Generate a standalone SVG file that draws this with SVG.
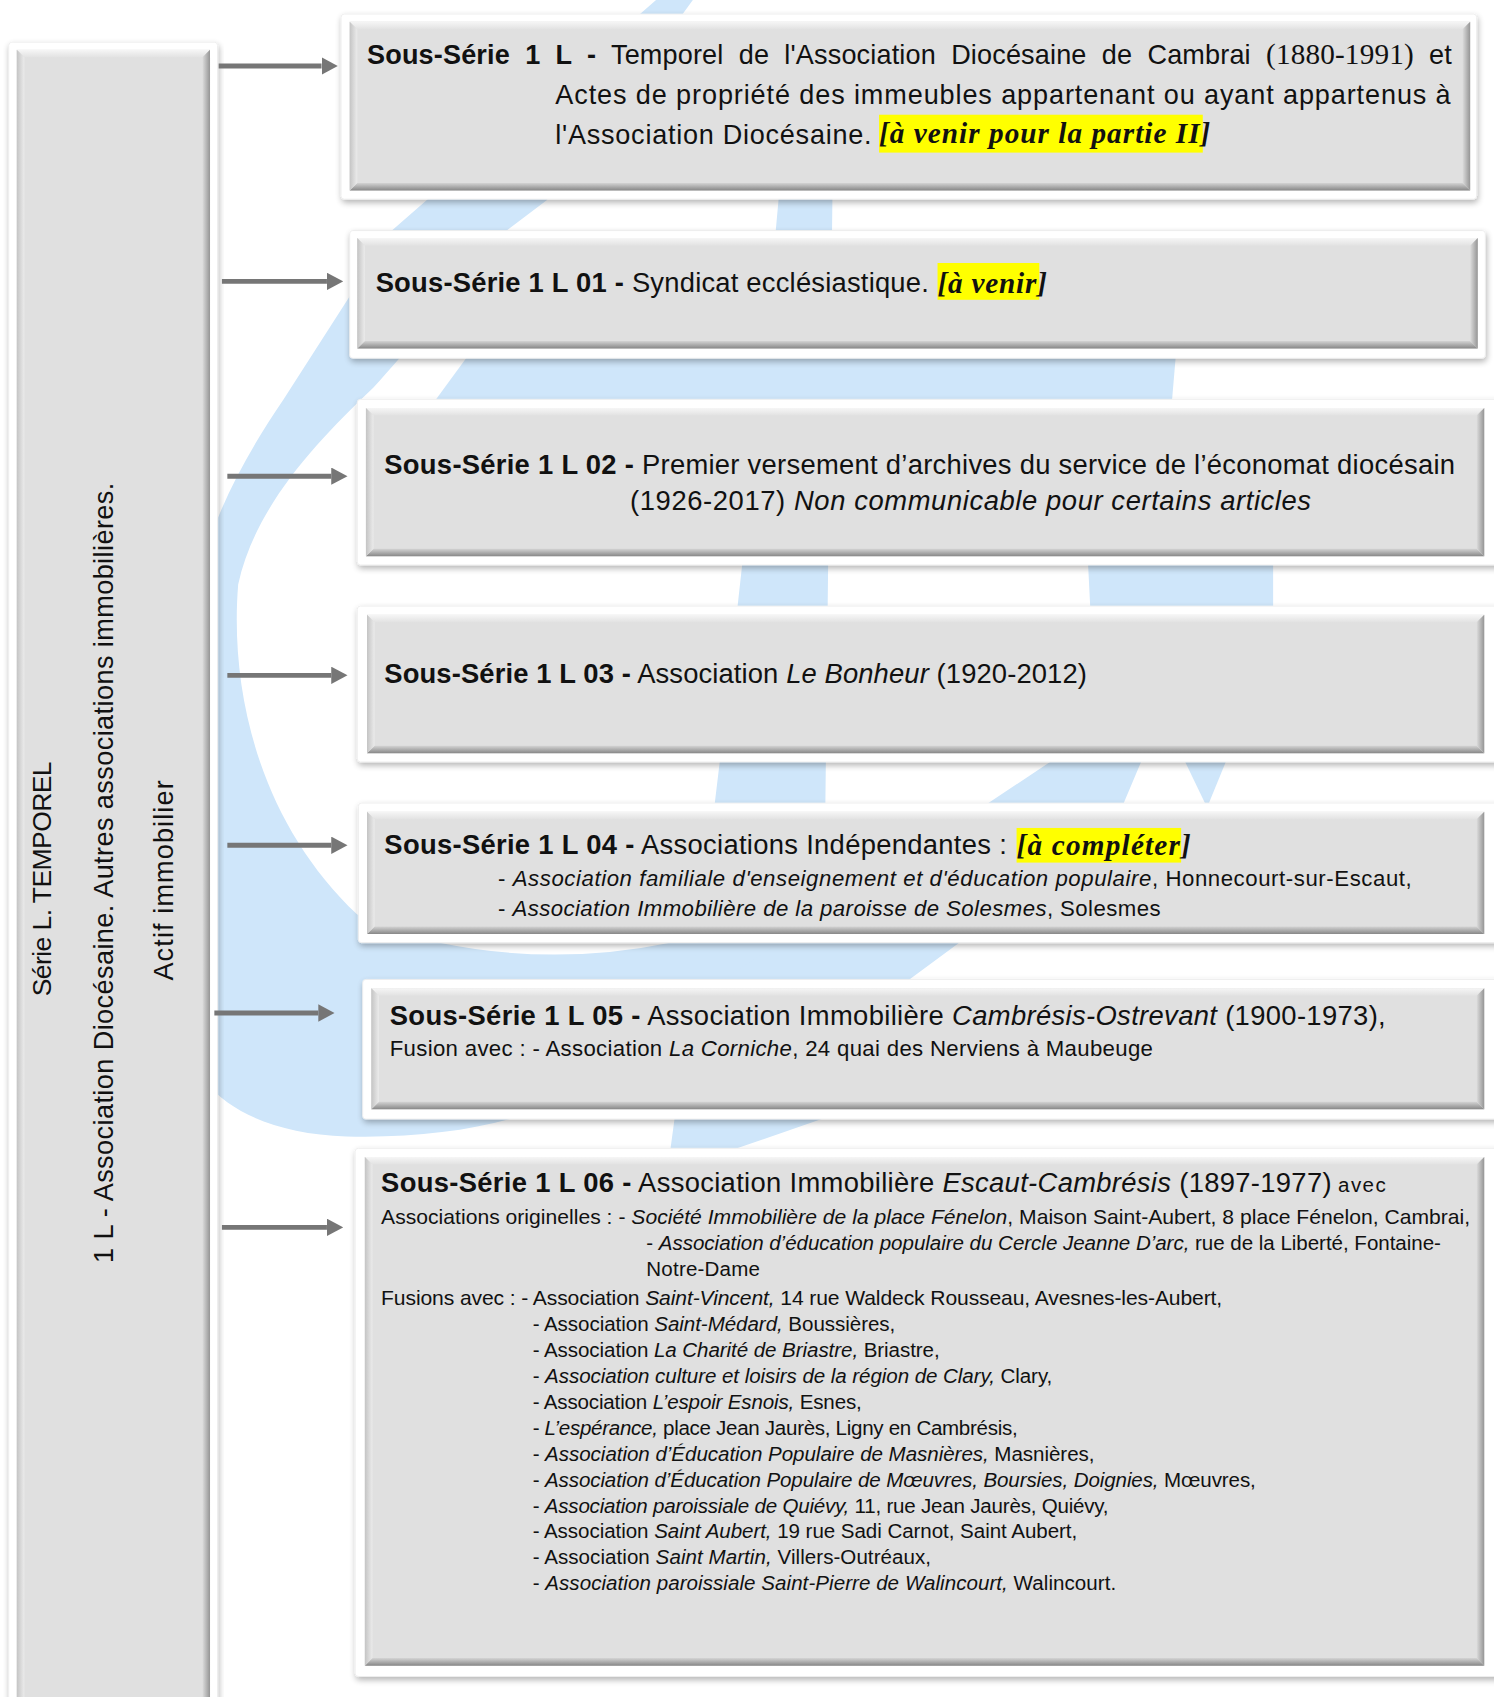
<svg xmlns="http://www.w3.org/2000/svg" width="1494" height="1697" viewBox="0 0 1494 1697">
<defs>
<style>
.t{font-family:"Liberation Sans",Arial,sans-serif;fill:#111}
.b{font-weight:bold}
.i{font-style:italic}
.s{font-family:"Liberation Serif","Times New Roman",serif}
.hs{font-family:"Liberation Serif","Times New Roman",serif;font-weight:bold;font-style:italic;fill:#111}
.hl{fill:#ffff00}
.frame{fill:#ffffff;stroke:#ececec;stroke-width:0.8;filter:url(#sh)}
.face{fill:#e0e0e0}
.bt{fill:url(#gTop)}
.bb{fill:url(#gBot)}
.bl{fill:url(#gLeft)}
.br{fill:url(#gRight)}
.wm{fill:#cfe6fa}
.arrow{stroke:#767676;stroke-width:4.5;fill:none;marker-end:url(#ah)}
</style>
<filter id="sh" x="-3%" y="-5%" width="106%" height="115%">
<feGaussianBlur in="SourceAlpha" stdDeviation="3"/>
<feOffset dx="1" dy="3" result="o"/>
<feComponentTransfer><feFuncA type="linear" slope="0.3"/></feComponentTransfer>
<feMerge><feMergeNode/><feMergeNode in="SourceGraphic"/></feMerge>
</filter>
<linearGradient id="gTop" x1="0" y1="0" x2="0" y2="1"><stop offset="0" stop-color="#f6f6f6"/><stop offset="1" stop-color="#e2e2e2"/></linearGradient>
<linearGradient id="gBot" x1="0" y1="0" x2="0" y2="1"><stop offset="0" stop-color="#d4d4d4"/><stop offset="1" stop-color="#878787"/></linearGradient>
<linearGradient id="gLeft" x1="0" y1="0" x2="1" y2="0"><stop offset="0" stop-color="#c4c4c4"/><stop offset="1" stop-color="#ebebeb"/></linearGradient>
<linearGradient id="gRight" x1="0" y1="0" x2="1" y2="0"><stop offset="0" stop-color="#dcdcdc"/><stop offset="1" stop-color="#959595"/></linearGradient>
<marker id="ah" markerWidth="15" markerHeight="16" refX="0" refY="8" orient="auto" markerUnits="userSpaceOnUse"><path d="M0,0 L15,8 L0,16 Z" fill="#767676"/></marker>
</defs>
<rect width="1494" height="1697" fill="#ffffff"/>
<g transform="scale(1.0826 1.0823)">
<g id="watermark">
<path class="wm" d="M606,0 L640,0 L505,185 L468,213 C420,270 380,320 345,358 C290,410 235,470 220,540 C212,640 240,760 330,845 L406,871 Q512,893 619,871 L760,871 L760,905 C700,960 600,1000 520,1016 C470,1040 400,1052 320,1050 C260,1048 215,1030 190,1000 L180,560 C185,500 220,430 262,369 L362,213 L394,185 Z"/>
<path class="wm" d="M720,175 L769,175 L759,1034 L672,1064 L619,1064 Q682,600 720,175 Z"/>
<path class="wm" d="M440,318 L1087,318 L1080,400 L380,400 Z"/>
<path class="wm" d="M1004,500 L1176,500 L1176,580 C1160,640 1080,660 1054,704 L1038,742 L886,871 L840,905 L780,950 L600,950 L720,871 L913,742 L970,704 C985,660 1005,620 1008,580 Z"/>
<path class="wm" d="M1088,690 L1138,690 L1115,746 Z"/>
</g>

<g id="node-serie-L">
<rect class="frame" x="8" y="39" width="193" height="1580" rx="3"/>
<rect class="face" x="15.5" y="46" width="178.5" height="1570"/>
<polygon class="bt" points="15.5,46 194,46 187,53 22.5,53"/>
<polygon class="bl" points="15.5,46 22.5,53 22.5,1616 15.5,1616"/>
<polygon class="br" points="194,46 187,53 187,1616 194,1616"/>
<text class="t" font-size="24.5" text-anchor="middle" textLength="217" lengthAdjust="spacing" transform="translate(47.5,812) rotate(-90)">Série L. TEMPOREL</text>
<text class="t" font-size="25" text-anchor="middle" textLength="721" lengthAdjust="spacing" transform="translate(104.5,806.5) rotate(-90)">1 L - Association Diocésaine. Autres associations immobilières.</text>
<text class="t" font-size="25" text-anchor="middle" textLength="185" lengthAdjust="spacing" transform="translate(159.5,813.5) rotate(-90)">Actif immobilier</text>
</g>

<g id="node-1L">
<rect class="frame" x="315" y="13" width="1049" height="171" rx="3"/>
<rect class="face" x="323" y="20" width="1035" height="156"/>
<polygon class="bt" points="323,20 1358,20 1351,27 330,27"/>
<polygon class="bb" points="323,176 1358,176 1351,169 330,169"/>
<polygon class="bl" points="323,20 330,27 330,169 323,176"/>
<polygon class="br" points="1358,20 1351,27 1351,169 1358,176"/>
<text class="t" x="339" y="59" font-size="25" textLength="1002" lengthAdjust="spacing" word-spacing="7"><tspan class="b">Sous-Série 1 L -</tspan> Temporel de l'Association Diocésaine de Cambrai <tspan class="s" font-size="27">(1880-1991)</tspan> et</text>
<text class="t" x="513" y="96" font-size="25" textLength="827" lengthAdjust="spacing">Actes de propriété des immeubles appartenant ou ayant appartenus à</text>
<text class="t" x="513" y="133" font-size="25" textLength="292" lengthAdjust="spacing">l'Association Diocésaine.</text>
<rect class="hl" x="812" y="106" width="299" height="35"/>
<text class="hs" x="812" y="132" font-size="27" textLength="306" lengthAdjust="spacing">[à venir pour la partie II]</text>
</g>

<g id="node-1L01">
<rect class="frame" x="323" y="213" width="1049" height="118" rx="3"/>
<rect class="face" x="330" y="220" width="1035" height="102"/>
<polygon class="bt" points="330,220 1365,220 1358,227 337,227"/>
<polygon class="bb" points="330,322 1365,322 1358,315 337,315"/>
<polygon class="bl" points="330,220 337,227 337,315 330,322"/>
<polygon class="br" points="1365,220 1358,227 1358,315 1365,322"/>
<text class="t" x="347" y="270" font-size="25.3" textLength="511" lengthAdjust="spacing"><tspan class="b">Sous-Série 1 L 01 -</tspan> Syndicat ecclésiastique.</text>
<rect class="hl" x="866" y="243" width="94" height="34"/>
<text class="hs" x="866" y="271" font-size="27" textLength="101" lengthAdjust="spacing">[à venir]</text>
</g>

<g id="node-1L02">
<rect class="frame" x="330" y="369" width="1060" height="153" rx="3"/>
<rect class="face" x="338" y="377" width="1033" height="137"/>
<polygon class="bt" points="338,377 1371,377 1364,384 345,384"/>
<polygon class="bb" points="338,514 1371,514 1364,507 345,507"/>
<polygon class="bl" points="338,377 345,384 345,507 338,514"/>
<polygon class="br" points="1371,377 1364,384 1364,507 1371,514"/>
<text class="t" x="355" y="438" font-size="25.3" textLength="989" lengthAdjust="spacing"><tspan class="b">Sous-Série 1 L 02 -</tspan> Premier versement d’archives du service de l’économat diocésain</text>
<text class="t" x="582" y="471" font-size="25.3" textLength="629" lengthAdjust="spacing">(1926-2017) <tspan class="i">Non communicable pour certains articles</tspan></text>
</g>

<g id="node-1L03">
<rect class="frame" x="330" y="560" width="1060" height="144" rx="3"/>
<rect class="face" x="339" y="568" width="1032" height="128"/>
<polygon class="bt" points="339,568 1371,568 1364,575 346,575"/>
<polygon class="bb" points="339,696 1371,696 1364,689 346,689"/>
<polygon class="bl" points="339,568 346,575 346,689 339,696"/>
<polygon class="br" points="1371,568 1364,575 1364,689 1371,696"/>
<text class="t" x="355" y="631" font-size="25.3" textLength="649" lengthAdjust="spacing"><tspan class="b">Sous-Série 1 L 03 -</tspan> Association <tspan class="i">Le Bonheur</tspan> (1920-2012)</text>
</g>

<g id="node-1L04">
<rect class="frame" x="331" y="742" width="1060" height="129" rx="3"/>
<rect class="face" x="339" y="750" width="1032" height="113"/>
<polygon class="bt" points="339,750 1371,750 1364,757 346,757"/>
<polygon class="bb" points="339,863 1371,863 1364,856 346,856"/>
<polygon class="bl" points="339,750 346,757 346,856 339,863"/>
<polygon class="br" points="1371,750 1364,757 1364,856 1371,863"/>
<text class="t" x="355" y="789" font-size="25.3" textLength="575" lengthAdjust="spacing"><tspan class="b">Sous-Série 1 L 04 -</tspan> Associations Indépendantes :</text>
<rect class="hl" x="939" y="765" width="152" height="32"/>
<text class="hs" x="939" y="790" font-size="27" textLength="161" lengthAdjust="spacing">[à compléter]</text>
<text class="t" x="460" y="819" font-size="20.5" textLength="844" lengthAdjust="spacing">- <tspan class="i">Association familiale d'enseignement et d'éducation populaire</tspan>, Honnecourt-sur-Escaut,</text>
<text class="t" x="460" y="846" font-size="20.5" textLength="612" lengthAdjust="spacing">- <tspan class="i">Association Immobilière de la paroisse de Solesmes</tspan>, Solesmes</text>
</g>

<g id="node-1L05">
<rect class="frame" x="335" y="905" width="1060" height="129" rx="3"/>
<rect class="face" x="343" y="913" width="1028" height="112"/>
<polygon class="bt" points="343,913 1371,913 1364,920 350,920"/>
<polygon class="bb" points="343,1025 1371,1025 1364,1018 350,1018"/>
<polygon class="bl" points="343,913 350,920 350,1018 343,1025"/>
<polygon class="br" points="1371,913 1364,920 1364,1018 1371,1025"/>
<text class="t" x="360" y="947" font-size="25.3" textLength="920" lengthAdjust="spacing"><tspan class="b">Sous-Série 1 L 05 -</tspan> Association Immobilière <tspan class="i">Cambrésis-Ostrevant</tspan> (1900-1973),</text>
<text class="t" x="360" y="976" font-size="20.5" textLength="705" lengthAdjust="spacing">Fusion avec : - Association <tspan class="i">La Corniche</tspan>, 24 quai des Nerviens à Maubeuge</text>
</g>

<g id="node-1L06">
<rect class="frame" x="328" y="1061" width="1062" height="488" rx="3"/>
<rect class="face" x="337" y="1069" width="1034" height="470"/>
<polygon class="bt" points="337,1069 1371,1069 1364,1076 344,1076"/>
<polygon class="bb" points="337,1539 1371,1539 1364,1532 344,1532"/>
<polygon class="bl" points="337,1069 344,1076 344,1532 337,1539"/>
<polygon class="br" points="1371,1069 1364,1076 1364,1532 1371,1539"/>
<text class="t" x="352" y="1101" font-size="25.3" textLength="878" lengthAdjust="spacing"><tspan class="b">Sous-Série 1 L 06 -</tspan> Association Immobilière <tspan class="i">Escaut-Cambrésis</tspan> (1897-1977)</text>
<text class="t" x="1236" y="1101" font-size="19" textLength="44" lengthAdjust="spacing">avec</text>
<text class="t" x="352" y="1131" font-size="19.5" textLength="1006" lengthAdjust="spacing">Associations originelles : - <tspan class="i">Société Immobilière de la place Fénelon</tspan>, Maison Saint-Aubert, 8 place Fénelon, Cambrai,</text>
<text class="t" x="597" y="1155" font-size="19" textLength="734" lengthAdjust="spacing">- <tspan class="i">Association d’éducation populaire du Cercle Jeanne D’arc,</tspan> rue de la Liberté, Fontaine-</text>
<text class="t" x="597" y="1179" font-size="19" textLength="105" lengthAdjust="spacing">Notre-Dame</text>
<text class="t" x="352" y="1205.5" font-size="19.5" textLength="777" lengthAdjust="spacing">Fusions avec : - Association <tspan class="i">Saint-Vincent,</tspan> 14 rue Waldeck Rousseau, Avesnes-les-Aubert,</text>
<text class="t" x="492" y="1229.5" font-size="19" textLength="335" lengthAdjust="spacing">- Association <tspan class="i">Saint-Médard,</tspan> Boussières,</text>
<text class="t" x="492" y="1253.5" font-size="19" textLength="376" lengthAdjust="spacing">- Association <tspan class="i">La Charité de Briastre,</tspan> Briastre,</text>
<text class="t" x="492" y="1277.5" font-size="19" textLength="480" lengthAdjust="spacing">- <tspan class="i">Association culture et loisirs de la région de Clary,</tspan> Clary,</text>
<text class="t" x="492" y="1301.5" font-size="19" textLength="304" lengthAdjust="spacing">- Association <tspan class="i">L’espoir Esnois,</tspan> Esnes,</text>
<text class="t" x="492" y="1325.5" font-size="19" textLength="448" lengthAdjust="spacing">- <tspan class="i">L’espérance,</tspan> place Jean Jaurès, Ligny en Cambrésis,</text>
<text class="t" x="492" y="1349.5" font-size="19" textLength="519" lengthAdjust="spacing">- <tspan class="i">Association d’Éducation Populaire de Masnières,</tspan> Masnières,</text>
<text class="t" x="492" y="1373.5" font-size="19" textLength="668" lengthAdjust="spacing">- <tspan class="i">Association d’Éducation Populaire de Mœuvres, Boursies, Doignies,</tspan> Mœuvres,</text>
<text class="t" x="492" y="1397.5" font-size="19" textLength="532" lengthAdjust="spacing">- <tspan class="i">Association paroissiale de Quiévy,</tspan> 11, rue Jean Jaurès, Quiévy,</text>
<text class="t" x="492" y="1421.5" font-size="19" textLength="503" lengthAdjust="spacing">- Association <tspan class="i">Saint Aubert,</tspan> 19 rue Sadi Carnot, Saint Aubert,</text>
<text class="t" x="492" y="1445.5" font-size="19" textLength="368" lengthAdjust="spacing">- Association <tspan class="i">Saint Martin,</tspan> Villers-Outréaux,</text>
<text class="t" x="492" y="1469.5" font-size="19" textLength="539" lengthAdjust="spacing">- <tspan class="i">Association paroissiale Saint-Pierre de Walincourt,</tspan> Walincourt.</text>
</g>

<g id="connectors">
<line class="arrow" x1="202" y1="61" x2="297" y2="61"/>
<line class="arrow" x1="205" y1="260" x2="302" y2="260"/>
<line class="arrow" x1="210" y1="440" x2="306" y2="440"/>
<line class="arrow" x1="210" y1="624" x2="306" y2="624"/>
<line class="arrow" x1="210" y1="781" x2="306" y2="781"/>
<line class="arrow" x1="198" y1="936" x2="294" y2="936"/>
<line class="arrow" x1="205" y1="1134" x2="302" y2="1134"/>
</g>
</g>
</svg>
